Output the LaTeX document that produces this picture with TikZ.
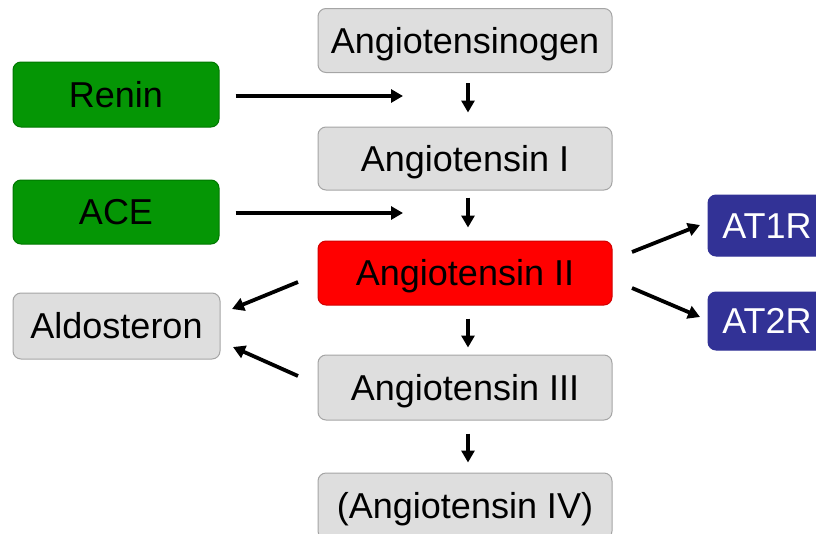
\documentclass[tikz,border=0pt]{standalone}
\usepackage{fontspec}
\setmainfont{Liberation Sans}
\usetikzlibrary{arrows.meta}
\definecolor{boxgray}{RGB}{222,222,222}
\definecolor{boxedge}{RGB}{165,165,165}
\definecolor{enzgreen}{RGB}{5,150,5}
\definecolor{enzedge}{RGB}{0,120,0}
\definecolor{recblue}{RGB}{50,50,150}
\definecolor{hotred}{RGB}{255,0,0}
\definecolor{hotedge}{RGB}{210,0,0}
\begin{document}
\begin{tikzpicture}[x=1pt,y=-1pt,
  base/.style={rectangle, rounded corners=8pt, line width=1pt, inner sep=0pt,
    font=\fontsize{36}{40}\selectfont, text height=25.8pt, text depth=0pt},
  gbox/.style={base, draw=boxedge, fill=boxgray, minimum width=294pt, minimum height=64pt},
  rbox/.style={base, draw=hotedge, fill=hotred, minimum width=294pt, minimum height=64pt},
  enz/.style={base, draw=enzedge, fill=enzgreen, minimum width=206pt, minimum height=65pt},
  rec/.style={base, draw=recblue, fill=recblue, text=white, minimum width=118pt, minimum height=60pt},
  arr/.style={line width=3.8pt, -{Triangle[length=12pt,width=13pt]}}]
\useasboundingbox (0,0) rectangle (816,533);
\clip (0,0) rectangle (816,533);

% main cascade
\node[gbox] (agn) at (465,40.5) {Angiotensinogen};
\node[gbox, minimum height=63pt] (a1) at (465,158.5) {Angiotensin I};
\node[rbox] (a2) at (465,273) {Angiotensin II};
\node[gbox, minimum height=65pt] (a3) at (465,387.5) {Angiotensin III};
\node[gbox, minimum height=66pt] (a4) at (465,506) {(Angiotensin IV)};

% enzymes and aldosterone
\node[enz] (renin) at (116,94.5) {Renin};
\node[enz, minimum height=64pt] (ace) at (116,212) {ACE};
\node[gbox, minimum width=207pt, minimum height=66pt] (ald) at (116.5,326) {Aldosteron};

% receptors
\node[rec, minimum height=61pt] (at1) at (767,225.5) {AT1R};
\node[rec, minimum height=58pt] (at2) at (767,321) {AT2R};

% free ends of the side arrows
\coordinate (k1) at (403,96);
\coordinate (k2) at (403,213);
\coordinate (p1) at (298,282);
\coordinate (q1) at (232,309);
\coordinate (p2) at (298,376);
\coordinate (q2) at (233,347);
\coordinate (s1) at (632,252);
\coordinate (t1) at (700,225);
\coordinate (s2) at (632,288);
\coordinate (t2) at (700,317);

% enzyme arrows
\draw[arr, shorten <=16pt] (renin.east |- k1) -- (k1);
\draw[arr, shorten <=16pt] (ace.east |- k2) -- (k2);

% downward steps
\draw[arr, shorten <=10pt, shorten >=14pt] ([xshift=3pt]agn.south) -- ([xshift=3pt]a1.north);
\draw[arr, shorten <=7pt, shorten >=13pt] ([xshift=3pt]a1.south) -- ([xshift=3pt]a2.north);
\draw[arr, shorten <=13pt, shorten >=7pt] ([xshift=3pt]a2.south) -- ([xshift=3pt]a3.north);
\draw[arr, shorten <=13pt, shorten >=10pt] ([xshift=3pt]a3.south) -- ([xshift=3pt]a4.north);

% to aldosterone and receptors
\draw[arr] (p1) -- (q1);
\draw[arr] (p2) -- (q2);
\draw[arr] (s1) -- (t1);
\draw[arr] (s2) -- (t2);
\end{tikzpicture}
\end{document}
